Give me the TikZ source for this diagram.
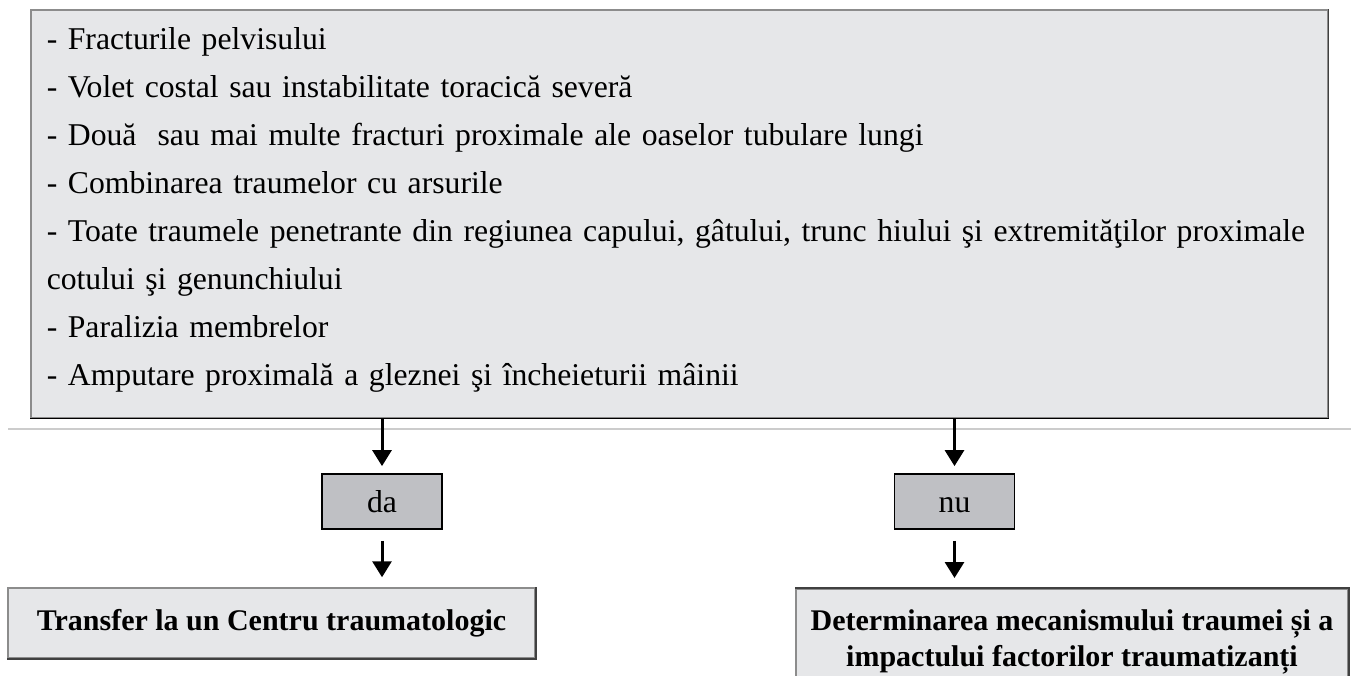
\documentclass[tikz,border=0pt]{standalone}
\usepackage{fontspec}
\setmainfont{Liberation Serif}
\usetikzlibrary{positioning,arrows.meta}
\definecolor{boxgray}{RGB}{230,231,233}
\definecolor{choicegray}{RGB}{191,192,196}
\definecolor{linegray}{RGB}{204,204,204}
\tikzstyle{arr} = [line width=3pt,-{Triangle[width=19pt,length=16pt]}]
\tikzstyle{framebox} = [draw=gray!90,line width=1.5pt,fill=boxgray]

\begin{document}
\begin{tikzpicture}[x=1pt,y=1pt,
			lista/.style={framebox,anchor=north west,text width=1265pt,minimum height=408pt,inner xsep=16pt,inner ysep=0pt,align=left,font=\fontsize{31.7}{48}\selectfont},
			choice/.style={draw=black,line width=1.8pt,fill=choicegray,minimum width=120pt,minimum height=55pt,inner sep=0pt,text height=22pt,text depth=1pt,font=\fontsize{31.7}{38}\selectfont},
			result/.style={framebox,inner sep=0pt,align=center,font=\fontsize{30}{35.5}\selectfont\bfseries}]
			\clip (0,0) rectangle (1351,-675);
			\node (lista) [lista] at (30,-9) {- Fracturile pelvisului\\
				- Volet costal sau instabilitate toracică severă\\
				- Două~ sau mai multe fracturi proximale ale oaselor tubulare lungi\\
				- Combinarea traumelor cu arsurile\\
				\mbox{- Toate traumele penetrante din regiunea capului, gâtului, trunc hiului şi extremităţilor proximale}\\
				cotului şi genunchiului\\
				- Paralizia membrelor\\
				- Amputare proximală a gleznei şi încheieturii mâinii\rule[-14pt]{0pt}{1pt}};
			\draw[darkgray,line width=1.5pt] (lista.north east) -- (lista.south east);
			\draw[black,line width=1.5pt] (lista.south west) -- (lista.south east);
			\draw[linegray,line width=1.5pt] (8,-429) -- (1351,-429);
			
			\node (da) [choice] at (382,-501.5) {da};
			\node (nu) [choice] at (954.5,-501.5) {nu};
			
			\node (centru) [result,minimum width=527pt,minimum height=70pt] at (271.5,-623) {Transfer la un Centru traumatologic};
			\node (mecanism) [result,anchor=north,minimum width=552pt,minimum height=106pt] at (1072,-588) {Determinarea mecanismului traumei și a\\impactului factorilor traumatizanți};
			\draw[darkgray,line width=1.5pt] (centru.north east) -- (centru.south east) -- (centru.south west);
			\draw[darkgray,line width=1.5pt] (mecanism.north west) -- (mecanism.north east) -- (mecanism.south east);
			
			\draw[arr] (da.north |- lista.south) -- ([yshift=7pt]da.north);
			\draw[arr] (nu.north |- lista.south) -- ([yshift=7pt]nu.north);
			\draw[arr] ([yshift=-11pt]da.south) -- ([yshift=10pt]da.south |- centru.north);
			\draw[arr] ([yshift=-11pt]nu.south) -- ([yshift=10pt]nu.south |- mecanism.north);
		\end{tikzpicture}
\end{document}
